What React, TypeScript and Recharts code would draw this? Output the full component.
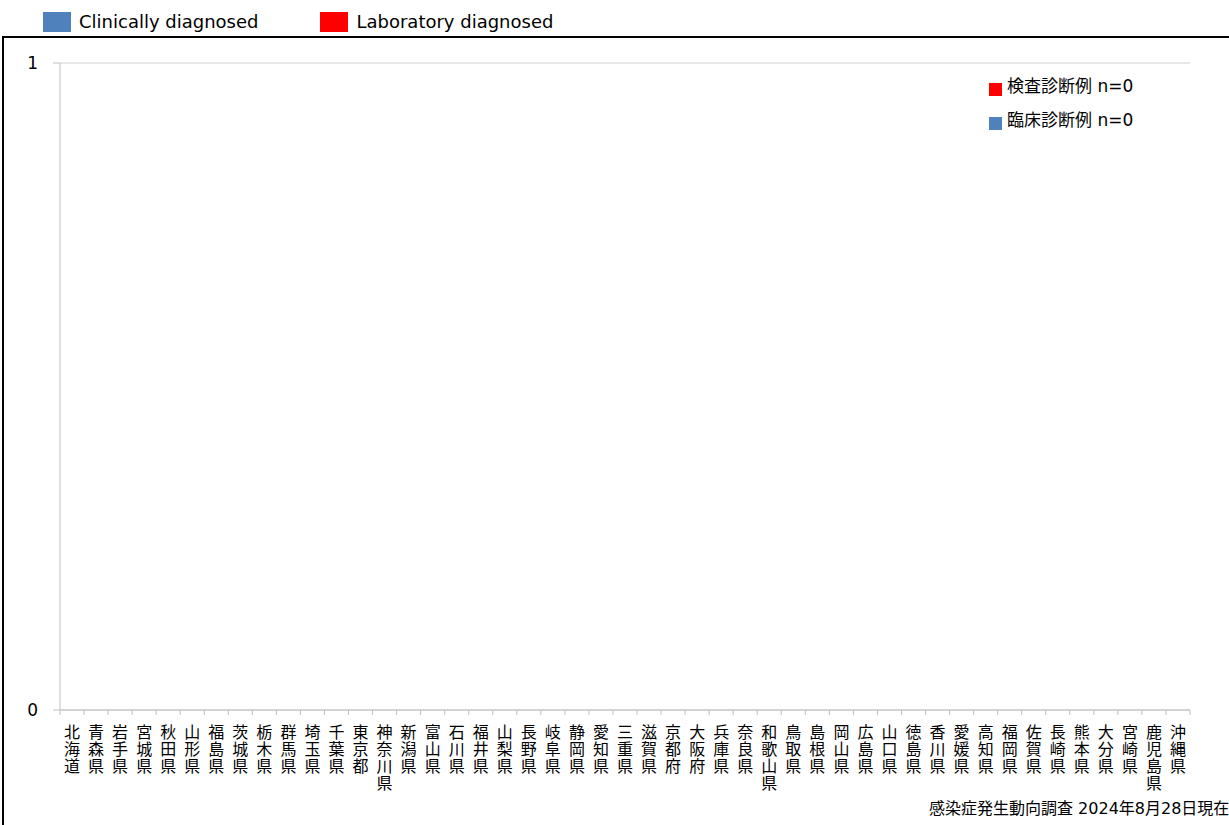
import React from 'react';
import { BarChart, Bar, XAxis, YAxis, CartesianGrid, Legend } from 'recharts';

const prefectures = [
  '北海道', '青森県', '岩手県', '宮城県', '秋田県', '山形県', '福島県', '茨城県', '栃木県', '群馬県',
  '埼玉県', '千葉県', '東京都', '神奈川県', '新潟県', '富山県', '石川県', '福井県', '山梨県', '長野県',
  '岐阜県', '静岡県', '愛知県', '三重県', '滋賀県', '京都府', '大阪府', '兵庫県', '奈良県', '和歌山県',
  '鳥取県', '島根県', '岡山県', '広島県', '山口県', '徳島県', '香川県', '愛媛県', '高知県', '福岡県',
  '佐賀県', '長崎県', '熊本県', '大分県', '宮崎県', '鹿児島県', '沖縄県',
];

const clinicalCounts = [
  0, 0, 0, 0, 0, 0, 0, 0, 0, 0,
  0, 0, 0, 0, 0, 0, 0, 0, 0, 0,
  0, 0, 0, 0, 0, 0, 0, 0, 0, 0,
  0, 0, 0, 0, 0, 0, 0, 0, 0, 0,
  0, 0, 0, 0, 0, 0, 0,
];

const labCounts = [
  0, 0, 0, 0, 0, 0, 0, 0, 0, 0,
  0, 0, 0, 0, 0, 0, 0, 0, 0, 0,
  0, 0, 0, 0, 0, 0, 0, 0, 0, 0,
  0, 0, 0, 0, 0, 0, 0, 0, 0, 0,
  0, 0, 0, 0, 0, 0, 0,
];

const yTicks = [0, 1];

const BLUE = '#4f81bd';
const RED = '#ff0000';
const AXIS = '#bfbfbf';
const FONT = '"DejaVu Sans", "Noto Sans CJK JP", sans-serif';
const CJK = '"Noto Sans CJK JP", sans-serif';

const chartData = prefectures.map((pref, i) => ({
  pref,
  clinical: clinicalCounts[i],
  lab: labCounts[i],
}));

const sum = (arr: number[]) => arr.reduce((a, b) => a + b, 0);

// prefecture names are written top-to-bottom under each band, with tick marks on the band edges
function PrefTick(props: any) {
  const { x, y, payload, width, visibleTicksCount, index } = props;
  const band = width / visibleTicksCount;
  const left = x - band / 2;
  return (
    <g>
      <line x1={left} x2={left} y1={y - 5} y2={y} stroke={AXIS} />
      {index === visibleTicksCount - 1 && (
        <line x1={left + band} x2={left + band} y1={y - 5} y2={y} stroke={AXIS} />
      )}
      <text
        x={x}
        y={y + 9}
        fontSize={16}
        fontFamily={CJK}
        fill="#000"
        letterSpacing={1}
        style={{ writingMode: 'vertical-rl' }}
      >
        {payload.value}
      </text>
    </g>
  );
}

function TopLegend({ payload }: any) {
  return (
    <div style={{ display: 'flex', alignItems: 'center', paddingLeft: 43, fontFamily: FONT, fontSize: 18 }}>
      {(payload || []).map((p: any, i: number) => (
        <div key={i} style={{ display: 'flex', alignItems: 'center', marginRight: 62 }}>
          <span style={{ display: 'inline-block', width: 28, height: 20, background: p.color, marginRight: 8 }} />
          <span style={{ color: '#000', lineHeight: '20px' }}>{p.value}</span>
        </div>
      ))}
    </div>
  );
}

export default function App() {
  const innerItems = [
    { label: '検査診断例', n: sum(labCounts), color: RED },
    { label: '臨床診断例', n: sum(clinicalCounts), color: BLUE },
  ];
  return (
    <div style={{ position: 'relative', width: 1229, height: 825, overflow: 'hidden', background: '#fff' }}>
      <style>{'body{margin:0}'}</style>
      <div
        style={{
          position: 'absolute',
          left: 2,
          top: 36,
          width: 1240,
          height: 820,
          border: '2px solid #000',
          boxSizing: 'border-box',
        }}
      />
      <div style={{ position: 'absolute', left: 0, top: 0 }}>
        <BarChart
          width={1229}
          height={825}
          data={chartData}
          margin={{ top: 63, right: 39, bottom: 15, left: 0 }}
          barCategoryGap="40%"
        >
          <CartesianGrid vertical={false} stroke="#d0d0d0" />
          <XAxis
            dataKey="pref"
            interval={0}
            height={100}
            tickLine={false}
            tickSize={5}
            tickMargin={0}
            axisLine={{ stroke: AXIS }}
            tick={<PrefTick />}
          />
          <YAxis
            width={60}
            domain={[0, 1]}
            ticks={yTicks}
            allowDecimals={false}
            tickSize={7}
            tickMargin={15}
            axisLine={{ stroke: AXIS }}
            tickLine={{ stroke: AXIS }}
            tick={{ fill: '#000', fontSize: 17, fontFamily: FONT }}
          />
          <Legend
            layout="horizontal"
            verticalAlign="middle"
            align="center"
            wrapperStyle={{ top: 12, left: 0, width: 1229, height: 20 }}
            content={<TopLegend />}
          />
          <Bar dataKey="clinical" stackId="a" fill={BLUE} name="Clinically diagnosed" isAnimationActive={false} />
          <Bar dataKey="lab" stackId="a" fill={RED} name="Laboratory diagnosed" isAnimationActive={false} />
        </BarChart>
      </div>
      {innerItems.map((it, i) => (
        <div key={it.label} style={{ position: 'absolute', left: 989, top: 76 + i * 34, height: 20 }}>
          <span
            style={{ position: 'absolute', left: 0, top: 7, width: 13, height: 13, background: it.color }}
          />
          <span
            style={{
              position: 'absolute',
              left: 18,
              top: 0,
              whiteSpace: 'nowrap',
              fontFamily: FONT,
              fontSize: 17,
              lineHeight: '20px',
              color: '#000',
            }}
          >
            {it.label} n={it.n}
          </span>
        </div>
      ))}
      <div
        style={{
          position: 'absolute',
          left: 929,
          top: 799,
          whiteSpace: 'nowrap',
          fontFamily: FONT,
          fontSize: 16,
          lineHeight: '20px',
          color: '#000',
        }}
      >
        感染症発生動向調査 2024年8月28日現在
      </div>
    </div>
  );
}
